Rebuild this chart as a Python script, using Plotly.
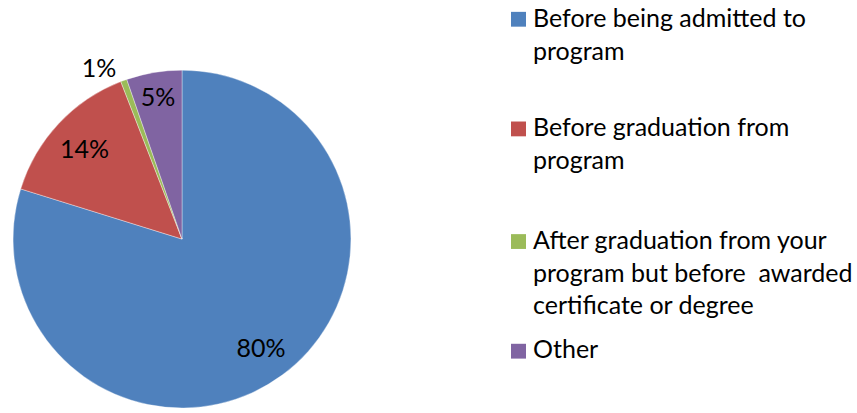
import plotly.graph_objects as go

labels = [
    "Before being admitted to<br>program",
    "Before graduation from<br>program",
    "After graduation from your<br>program but before  awarded<br>certificate or degree",
    "Other",
]
values = [79.8, 14.3, 0.6, 5.3]
colors = ["#4F81BD", "#C0504D", "#9BBB59", "#8064A2"]
text_positions = ["inside", "inside", "outside", "inside"]

W, H = 857, 413
FONT = "Lato"
FS = 25
pie_domain = dict(x=[11 / W, 353 / W], y=[0, 1 - 71 / H])

fig = go.Figure()
# filled pie (no text)
fig.add_trace(go.Pie(
    labels=labels,
    values=values,
    sort=False,
    direction="clockwise",
    rotation=0,
    marker=dict(colors=colors, line=dict(color="rgba(255,255,255,0.6)", width=0.6)),
    textinfo="none",
    hoverinfo="label+percent",
    showlegend=False,
    domain=pie_domain,
))
# transparent ring carrying the percentage labels (keeps them near the rim)
fig.add_trace(go.Pie(
    labels=labels,
    values=values,
    sort=False,
    direction="clockwise",
    rotation=0,
    hole=0.58,
    marker=dict(colors=["rgba(0,0,0,0)"] * len(values), line=dict(width=0)),
    texttemplate="%{percent:.0%}",
    textposition=text_positions,
    insidetextorientation="horizontal",
    textfont=dict(family=FONT, size=FS, color="black"),
    hoverinfo="skip",
    showlegend=False,
    domain=pie_domain,
))

# legend drawn as annotations + squares
legend_x_box = 511
legend_x_text = 531
first_line_baselines = [27, 138, 252, 363]
for lab, col, yb in zip(labels, colors, first_line_baselines):
    fig.add_shape(type="rect", xref="paper", yref="paper",
                  x0=legend_x_box / W, x1=(legend_x_box + 15) / W,
                  y0=1 - yb / H, y1=1 - (yb - 15) / H,
                  fillcolor=col, line=dict(width=0))
    fig.add_annotation(xref="paper", yref="paper", x=legend_x_text / W,
                       y=1 - (yb - 27.5) / H,
                       xanchor="left", yanchor="top", align="left",
                       text=lab, showarrow=False,
                       font=dict(family=FONT, size=FS, color="black"))

fig.update_layout(
    width=W, height=H,
    margin=dict(l=0, r=0, t=0, b=0),
    paper_bgcolor="white",
    plot_bgcolor="white",
    showlegend=False,
)
fig.write_html("out.html",
               config={"displayModeBar": False},
               post_script="document.body.style.margin='0';document.body.style.padding='0';")
